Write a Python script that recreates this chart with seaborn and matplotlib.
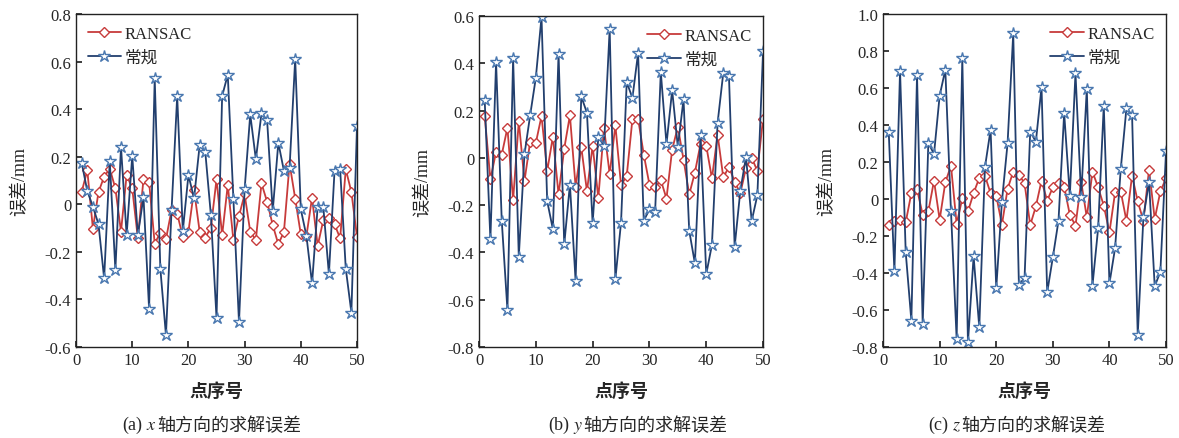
import numpy as np
import pandas as pd
import matplotlib
matplotlib.use('Agg')
import matplotlib.pyplot as plt
import seaborn as sns
from matplotlib.ticker import FuncFormatter, MultipleLocator
from matplotlib.lines import Line2D

# indice dei punti
punti = list(range(1, 51))

# (a) errore asse x
ransac_x = [0.052, 0.143, -0.102, 0.052, 0.116, 0.15, 0.067, -0.115, 0.123, 0.067,
            -0.143, 0.105, 0.094, -0.165, -0.119, -0.147, -0.024, -0.039, -0.137, -0.115,
            0.06, -0.115, -0.14, -0.098, 0.105, -0.13, 0.081, -0.15, -0.049, 0.042,
            -0.115, -0.15, 0.088, 0.011, -0.087, -0.168, -0.115, 0.171, 0.024, -0.126,
            -0.133, 0.028, -0.175, -0.067, -0.059, -0.084, -0.143, 0.147, 0.052, -0.137]
normale_x = [0.175, 0.056, -0.01, -0.084, -0.312, 0.182, -0.276, 0.242, -0.13, 0.203,
             -0.13, 0.031, -0.44, 0.529, -0.27, -0.55, -0.024, 0.455, -0.112, 0.123,
             0.025, 0.249, 0.22, -0.046, -0.478, 0.455, 0.545, 0.024, -0.497, 0.063,
             0.378, 0.189, 0.382, 0.354, -0.028, 0.259, 0.14, 0.154, 0.611, -0.021,
             -0.133, -0.333, -0.01, -0.01, -0.294, 0.14, 0.147, -0.27, -0.455, 0.329]

# (b) errore asse y
ransac_y = [0.177, -0.091, 0.025, 0.014, 0.127, -0.179, 0.155, -0.098, 0.068, 0.063,
            0.177, -0.056, 0.089, -0.155, 0.039, 0.18, -0.122, 0.046, -0.141, 0.051,
            -0.17, 0.127, -0.069, 0.138, -0.115, -0.077, 0.163, 0.166, 0.014, -0.113,
            -0.125, -0.094, -0.172, 0.035, 0.131, -0.007, -0.155, -0.062, 0.06, 0.051,
            -0.087, 0.098, -0.083, -0.038, -0.101, -0.15, -0.042, 0.0, -0.055, 0.166]
normale_y = [0.243, -0.345, 0.405, -0.266, -0.643, 0.422, -0.418, 0.015, 0.18, 0.339,
             0.595, -0.183, -0.302, 0.44, -0.366, -0.113, -0.52, 0.26, 0.19, -0.277,
             0.089, 0.051, 0.546, -0.513, -0.274, 0.321, 0.253, 0.443, -0.266, -0.218,
             -0.228, 0.363, 0.058, 0.286, 0.046, 0.248, -0.308, -0.446, 0.098, -0.492,
             -0.368, 0.148, 0.36, 0.345, -0.376, -0.139, 0.004, -0.267, -0.158, 0.45]

# (c) errore asse z
ransac_z = [-0.141, -0.121, -0.112, -0.126, 0.032, 0.054, -0.085, -0.067, 0.099, -0.112,
            0.09, 0.18, -0.135, 0.004, -0.067, 0.032, 0.114, 0.126, 0.031, 0.018,
            -0.139, 0.054, 0.148, 0.13, 0.086, -0.141, -0.04, 0.099, -0.009, 0.063,
            0.086, 0.067, -0.085, -0.144, 0.094, -0.099, 0.148, 0.063, -0.036, -0.18,
            0.036, 0.04, -0.117, 0.126, -0.013, -0.117, 0.159, -0.108, 0.041, 0.112]
normale_z = [0.364, -0.391, 0.694, -0.288, -0.658, 0.67, -0.676, 0.303, 0.243, 0.559,
             0.699, -0.067, -0.757, 0.762, -0.775, -0.31, -0.694, 0.171, 0.375, -0.483,
             -0.014, 0.301, 0.895, -0.463, -0.427, 0.364, 0.31, 0.604, -0.505, -0.315,
             -0.117, 0.465, 0.018, 0.681, 0.013, 0.595, -0.468, -0.159, 0.505, -0.456,
             -0.265, 0.162, 0.49, 0.454, -0.735, -0.099, 0.094, -0.472, -0.393, 0.258]

# didascalie: prefisso (con asse in corsivo) + testo cinese
prefissi = ['(a) $x$', '(b) $y$', '(c) $z$']
testo_didascalia = '轴方向的求解误差'
limiti_y = [(-0.6, 0.8), (-0.8, 0.6), (-0.8, 1.0)]
posizione_legenda = ['upper left', 'upper right', 'upper right']

sns.set_theme(style='ticks')
plt.rcParams['font.family'] = ['Liberation Serif', 'Noto Sans CJK SC']
plt.rcParams['mathtext.fontset'] = 'stix'

fig = plt.figure(figsize=(11.79, 4.39), dpi=100)
# posizioni degli assi in frazioni della figura
rettangoli = [[0.0645, 0.2073, 0.2383, 0.7585],
              [0.4063, 0.2073, 0.2409, 0.7540],
              [0.7490, 0.2073, 0.2400, 0.7585]]
# centro orizzontale delle didascalie (pixel)
centri_didascalia = [197, 623, 1001]

serie = [(ransac_x, normale_x), (ransac_y, normale_y), (ransac_z, normale_z)]
palette = {'RANSAC': '#c73b3b', '常规': '#223f6e'}

for i, (r, n) in enumerate(serie):
    df = pd.DataFrame({
        'punto': punti * 2,
        'valore': r + n,
        'metodo': ['RANSAC'] * len(punti) + ['常规'] * len(punti),
    })
    ax = fig.add_axes(rettangoli[i])
    sns.lineplot(data=df, x='punto', y='valore', hue='metodo', style='metodo',
                 markers={'RANSAC': 'D', '常规': '*'}, dashes=False,
                 palette=palette, linewidth=1.3, ax=ax, legend=False)
    # marker vuoti come nell'originale
    for line, ec, ms in zip(ax.get_lines(), ['#c73b3b', '#4a78b0'], [5, 9]):
        line.set_markerfacecolor('white')
        line.set_markeredgecolor(ec)
        line.set_markeredgewidth(1.0)
        line.set_markersize(ms)

    ax.set_xlim(0, 50)
    ax.set_ylim(*limiti_y[i])
    ax.xaxis.set_major_locator(MultipleLocator(10))
    ax.yaxis.set_major_locator(MultipleLocator(0.2))
    ax.yaxis.set_major_formatter(FuncFormatter(lambda v, p: '0' if abs(v) < 1e-9 else f'{v:.1f}'))
    ax.tick_params(direction='in', labelsize=12, length=4, top=False, right=False)
    for s in ax.spines.values():
        s.set_color('#222222')
        s.set_linewidth(1.0)

    ax.set_xlabel('点序号', fontsize=13, fontweight='bold', labelpad=10)
    ax.set_ylabel('误差/mm', fontsize=13, labelpad=12)

    handles = [Line2D([], [], color='#c73b3b', marker='D', markersize=5, markerfacecolor='white',
                      markeredgecolor='#c73b3b', linewidth=1.3),
               Line2D([], [], color='#223f6e', marker='*', markersize=9, markerfacecolor='white',
                      markeredgecolor='#4a78b0', linewidth=1.3)]
    ax.legend(handles, ['RANSAC', '常规'], loc=posizione_legenda[i], frameon=False,
              fontsize=12, handlelength=2.0, handletextpad=0.2, borderaxespad=0.3,
              labelspacing=0.5)

    # didascalia in due pezzi: la parte matematica non ha fallback CJK
    cx = (centri_didascalia[i] - 40) / 1179
    fig.text(cx, 0.03, prefissi[i], ha='right', va='center', fontsize=13)
    fig.text(cx, 0.03, testo_didascalia, ha='left', va='center', fontsize=13,
             family=['Noto Sans CJK SC'])

plt.savefig('out.png', dpi=100)
plt.close()
